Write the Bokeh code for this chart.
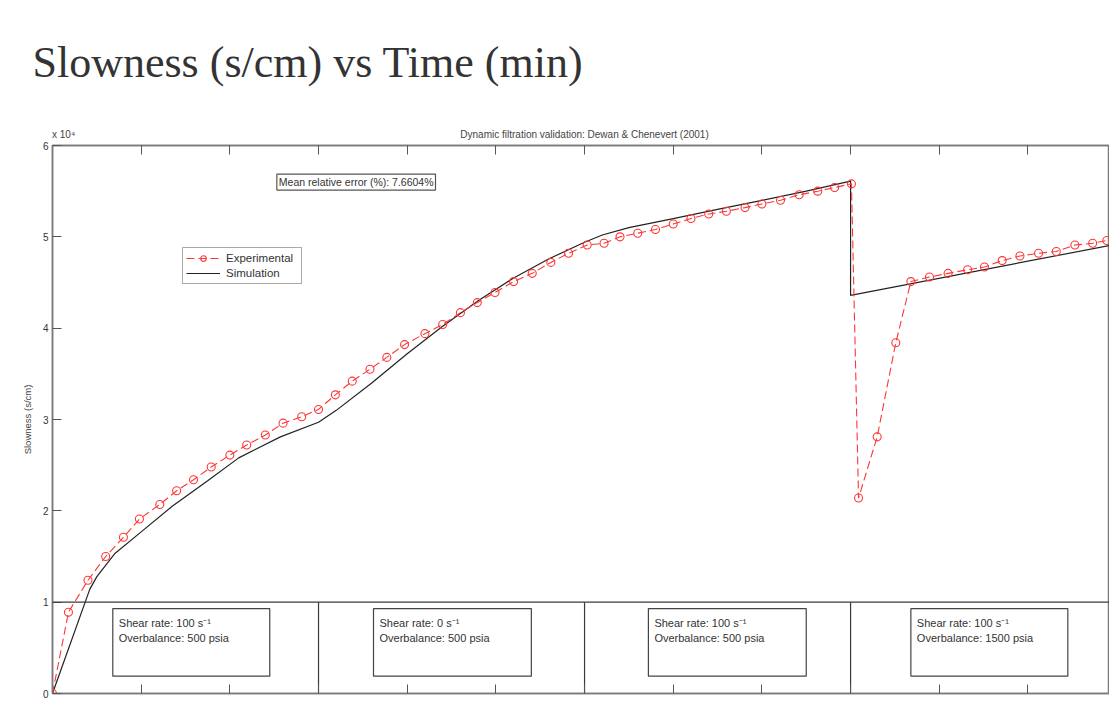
from bokeh.plotting import figure
from bokeh.models import (Legend, LegendItem, LinearAxis, FixedTicker, Span, Title, Label)
from bokeh.core.properties import value
from bokeh.embed import file_html
from bokeh.resources import INLINE

# ---------------- data ----------------
exp_time = [0, 1.8, 4.0, 6.0, 8.0, 9.8, 12.1, 14.0, 15.9, 17.9, 20.0, 21.9, 24.0, 26.0, 28.1, 30.0,
            31.9, 33.8, 35.8, 37.7, 39.7, 42.0, 44.0, 46.0, 47.9, 49.9, 52.0, 54.1, 56.2, 58.2, 60.3,
            62.2, 64.0, 66.0, 68.0, 70.0, 72.0, 74.0, 76.0, 78.1, 80.0, 82.1, 84.2, 86.3, 88.2, 90.1,
            90.9, 93.0, 95.1, 96.8, 98.9, 101.0, 103.2, 105.1, 107.1, 109.1, 111.2, 113.2, 115.3,
            117.3, 118.9]
# slowness in units of 1e4 s/cm
exp_slow = [0, 0.89, 1.24, 1.50, 1.71, 1.91, 2.07, 2.22, 2.34, 2.48, 2.61, 2.72, 2.83, 2.96, 3.03, 3.11,
            3.27, 3.42, 3.55, 3.68, 3.82, 3.94, 4.04, 4.17, 4.28, 4.39, 4.51, 4.60, 4.72, 4.82, 4.91,
            4.93, 5.00, 5.04, 5.08, 5.14, 5.20, 5.25, 5.28, 5.32, 5.36, 5.40, 5.46, 5.50, 5.54, 5.58,
            2.14, 2.81, 3.84, 4.51, 4.56, 4.60, 4.64, 4.67, 4.74, 4.79, 4.82, 4.84, 4.91,
            4.93, 4.96]

sim_time = [0, 4.2, 5.0, 7.0, 10.0, 13.5, 17.5, 21.0, 25.7, 30.0, 32.0, 36.0, 40.0, 44.0, 48.0,
            52.0, 56.0, 60.0, 62.0, 65.0, 70.0, 75.0, 80.0, 85.0, 90.0, 90.0, 120.0]
sim_slow = [0, 1.14, 1.28, 1.53, 1.77, 2.05, 2.33, 2.58, 2.81, 2.97, 3.10, 3.40, 3.72, 4.02, 4.30,
            4.55, 4.76, 4.94, 5.02, 5.10, 5.20, 5.30, 5.40, 5.50, 5.61, 4.36, 4.92]

phase_bounds = [30, 60, 90]
shear_rates = [100, 0, 100, 100]
overbalances = [500, 500, 500, 1500]
phase_box_left = [6.8, 36.2, 67.2, 96.8]
phase_box_right = [24.5, 54.0, 85.0, 114.5]

x_ticks = [0, 10, 20, 30, 40, 50, 60, 70, 80, 90, 100, 110, 120]
y_ticks = [0, 1, 2, 3, 4, 5, 6]

title_text = "Slowness (s/cm) vs Time (min)"
sub_title = "Dynamic filtration validation: Dewan & Chenevert (2001)"
error_text = "Mean relative error (%): 7.6604%"
scale_text = "x 10\u2074"

# ---------------- figure ----------------
AXC = "#7a7a7a"
FONT = "Liberation Sans"

p = figure(width=1109, height=700, x_range=(0, 119.2), y_range=(0, 6),
           output_backend="svg", toolbar_location=None,
           min_border_left=52, min_border_right=0, min_border_top=145, min_border_bottom=7)
p.background_fill_color = "white"
p.border_fill_color = "white"
p.outline_line_color = AXC
p.outline_line_width = 1.5
p.xgrid.visible = False
p.ygrid.visible = False

for ax in p.xaxis:
    ax.ticker = FixedTicker(ticks=x_ticks)
    ax.major_tick_in = 9
    ax.major_tick_out = 0
    ax.minor_tick_in = 0
    ax.minor_tick_out = 0
    ax.major_label_text_font_size = "0px"
    ax.major_label_standoff = 0
    ax.axis_line_color = AXC
    ax.axis_line_width = 1.5
    ax.major_tick_line_color = "#555555"

for ax in p.yaxis:
    ax.ticker = FixedTicker(ticks=y_ticks)
    ax.major_tick_in = 9
    ax.major_tick_out = 0
    ax.minor_tick_in = 0
    ax.minor_tick_out = 0
    ax.major_label_text_font = FONT
    ax.major_label_text_font_size = "10px"
    ax.major_label_text_color = "#333333"
    ax.major_label_standoff = 4
    ax.axis_line_color = AXC
    ax.axis_line_width = 1.5
    ax.major_tick_line_color = "#555555"
    ax.axis_label = "Slowness (s/cm)"
    ax.axis_label_text_font = FONT
    ax.axis_label_text_font_size = "9.5px"
    ax.axis_label_text_font_style = "normal"
    ax.axis_label_text_color = "#444444"
    ax.axis_label_standoff = 7

# top axis: inward ticks; its tick-label row carries the exponent and the plot subtitle
top_labels = {t: "" for t in x_ticks}
top_labels[x_ticks[0]] = "\u00a0" * 8 + scale_text
top_labels[(x_ticks[0] + x_ticks[-1]) / 2] = sub_title
top_axis = LinearAxis(ticker=FixedTicker(ticks=x_ticks), major_tick_in=9, major_tick_out=0,
                      minor_tick_in=0, minor_tick_out=0,
                      major_label_overrides=top_labels,
                      major_label_text_font=FONT, major_label_text_font_size="10px",
                      major_label_text_color="#444444", major_label_standoff=6,
                      axis_line_color=AXC, axis_line_width=1.5,
                      major_tick_line_color="#555555")
p.add_layout(top_axis, "above")

p.add_layout(Title(text=title_text, align="left", offset=-20, text_font="Liberation Serif",
                   text_font_size="44px", text_font_style="normal", text_color="#333333",
                   vertical_align="top", standoff=74), "above")

# phase separators
p.add_layout(Span(location=1, dimension="width", line_color="#3a3a3a", line_width=1.2))
p.segment(x0=phase_bounds, y0=[0] * len(phase_bounds), x1=phase_bounds, y1=[1] * len(phase_bounds),
          line_color="#3a3a3a", line_width=1.2)

# phase boxes
p.quad(left=phase_box_left, right=phase_box_right, top=[0.93] * 4, bottom=[0.19] * 4,
       fill_color=None, line_color="#444444", line_width=1.2)
phase_texts = [f"Shear rate: {s} s\u207b\u00b9\nOverbalance: {o} psia"
               for s, o in zip(shear_rates, overbalances)]
p.text(x=phase_box_left, y=[0.93] * 4, text=phase_texts, x_offset=6, y_offset=8,
       text_baseline="top", text_align="left", text_font=value(FONT), text_font_size="11px",
       text_color="#333333", text_line_height=1.25)

# series
sim_r = p.line(sim_time, sim_slow, line_color="#222222", line_width=1.2)
exp_line = p.line(exp_time, exp_slow, line_color="#ff3535", line_width=1.1, line_dash="8 4")
exp_pts = p.scatter(exp_time, exp_slow, marker="circle", size=8, fill_color=None,
                    line_color="#ff3535", line_width=1.1)

legend = Legend(items=[LegendItem(label="Experimental", renderers=[exp_line, exp_pts]),
                       LegendItem(label="Simulation", renderers=[sim_r])],
                location=(130, 409), orientation="vertical",
                glyph_width=34, glyph_height=14, label_height=14, label_standoff=6,
                label_width=72, padding=3, spacing=1, margin=0,
                label_text_font=FONT, label_text_font_size="11.5px", label_text_color="#333333",
                border_line_color="#555555", border_line_width=1.2,
                background_fill_color="white", background_fill_alpha=1)
p.add_layout(legend, "center")

# error annotation
p.add_layout(Label(x=25.3, y=5.6, text=error_text, text_font=FONT, text_font_size="10.5px",
                   text_color="#333333", text_baseline="middle", padding=2,
                   border_line_color="#555555", border_line_width=1.2,
                   background_fill_color="white"))

open("out.html", "w").write(file_html(p, INLINE))
